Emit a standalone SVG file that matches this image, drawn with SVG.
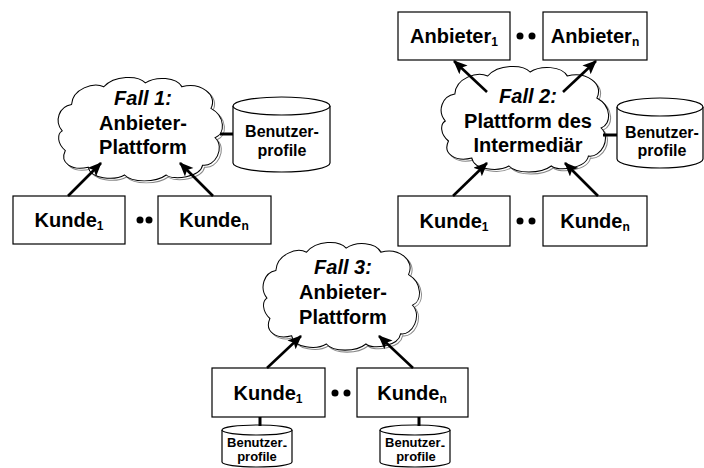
<svg xmlns="http://www.w3.org/2000/svg" xmlns:xlink="http://www.w3.org/1999/xlink" width="704" height="468" viewBox="0 0 704 468">
<style>
.box{fill:#fff;stroke:#000;stroke-width:1.2}
.cyl{fill:#fff;stroke:#000;stroke-width:1.2}
.t{font-family:"Liberation Sans",Arial,sans-serif;font-weight:bold;fill:#000;text-anchor:middle}
.big{font-size:20px}
.it{font-style:italic}
.mid{font-size:16px}
.sm{font-size:13px}
.sub{font-size:12px}
.arr{stroke:#000;stroke-width:2.6;fill:none;marker-end:url(#ah)}
.link{stroke:#000;stroke-width:3;fill:none}
.shadow{fill:#fff;stroke:#888;stroke-width:1}
.cloud{fill:#fff;stroke:#000;stroke-width:1}
</style>
<defs>
<marker id="ah" markerUnits="userSpaceOnUse" markerWidth="16" markerHeight="14" refX="13" refY="6" orient="auto">
<path d="M0,0 L14,6 L0,12 L3,6 z" fill="#000"/>
</marker>
<path id="cl" d="M5,55 C-3,45 2,30 14,28 C15,12 35,5 45,10 C55,-2 78,-2 85,6 C95,-1 115,0 120,10 C138,5 155,18 148,32 C162,40 162,58 152,62 C162,72 152,92 140,90 C138,102 112,106 105,100 C95,108 72,108 65,100 C55,106 32,104 30,92 C15,96 2,88 8,75 C0,68 0,58 5,55 Z"/>
</defs>

<g id="cloud1">
<use xlink:href="#cl" class="shadow" transform="translate(59,79) scale(1.04,0.98)"/>
<use xlink:href="#cl" class="cloud" transform="translate(57,77) scale(1.04,0.98)"/>
<text class="t big it" x="143" y="105">Fall 1:</text>
<text class="t big" x="143" y="130">Anbieter-</text>
<text class="t big" x="143" y="154">Plattform</text>
</g>
<g id="db1">
<path class="cyl" d="M233,106 A48.5,9 0 0,1 330,106 L330,163 A48.5,9 0 0,1 233,163 Z"/>
<path class="cyl" d="M233,106 A48.5,9 0 0,0 330,106"/>
<text class="t mid" x="282" y="137">Benutzer-</text>
<text class="t mid" x="282" y="156">profile</text>
</g>
<g id="c1k1">
<rect class="box" x="13" y="196" width="112" height="48"/>
<text class="t big" x="69" y="227">Kunde<tspan class="sub" dy="3">1</tspan></text>
</g>
<g id="c1kn">
<rect class="box" x="158" y="196" width="113" height="48"/>
<text class="t big" x="214" y="227">Kunde<tspan class="sub" dy="3">n</tspan></text>
</g>
<g id="c1dots"><circle cx="140" cy="220" r="3.5"/><circle cx="149" cy="220" r="3.5"/></g>

<g id="cloud2">
<use xlink:href="#cl" class="shadow" transform="translate(442,68) scale(1.06,1.0)"/>
<use xlink:href="#cl" class="cloud" transform="translate(440,66) scale(1.06,1.0)"/>
<text class="t big it" x="528" y="103">Fall 2:</text>
<text class="t big" x="528" y="128">Plattform des</text>
<text class="t big" x="528" y="152">Intermediär</text>
</g>
<g id="db2">
<path class="cyl" d="M617,107 A43,9 0 0,1 703,107 L703,159 A43,9 0 0,1 617,159 Z"/>
<path class="cyl" d="M617,107 A43,9 0 0,0 703,107"/>
<text class="t mid" x="662" y="138">Benutzer-</text>
<text class="t mid" x="662" y="156">profile</text>
</g>
<g id="c2a1">
<rect class="box" x="398" y="12" width="112" height="48"/>
<text class="t big" x="454" y="43">Anbieter<tspan class="sub" dy="3">1</tspan></text>
</g>
<g id="c2an">
<rect class="box" x="543" y="12" width="104" height="48"/>
<text class="t big" x="595" y="43">Anbieter<tspan class="sub" dy="3">n</tspan></text>
</g>
<g id="c2k1">
<rect class="box" x="398" y="196" width="112" height="50"/>
<text class="t big" x="454" y="228">Kunde<tspan class="sub" dy="3">1</tspan></text>
</g>
<g id="c2kn">
<rect class="box" x="543" y="196" width="104" height="50"/>
<text class="t big" x="595" y="228">Kunde<tspan class="sub" dy="3">n</tspan></text>
</g>
<g id="c2dots"><circle cx="520" cy="36" r="3.5"/><circle cx="532" cy="36" r="3.5"/><circle cx="520" cy="221" r="3.5"/><circle cx="532" cy="221" r="3.5"/></g>

<g id="cloud3">
<use xlink:href="#cl" class="shadow" transform="translate(264,244) scale(0.99,1.02)"/>
<use xlink:href="#cl" class="cloud" transform="translate(262,242) scale(0.99,1.02)"/>
<text class="t big it" x="343" y="274">Fall 3:</text>
<text class="t big" x="343" y="299">Anbieter-</text>
<text class="t big" x="343" y="324">Plattform</text>
</g>
<g id="c3k1">
<rect class="box" x="212" y="368" width="113" height="49"/>
<text class="t big" x="268" y="400">Kunde<tspan class="sub" dy="3">1</tspan></text>
</g>
<g id="c3kn">
<rect class="box" x="357" y="368" width="111" height="49"/>
<text class="t big" x="412" y="400">Kunde<tspan class="sub" dy="3">n</tspan></text>
</g>
<g id="c3dots"><circle cx="335" cy="393" r="3.5"/><circle cx="347" cy="393" r="3.5"/></g>
<g id="db3a">
<path class="cyl" d="M222,430 A35,5 0 0,1 292,430 L292,462 A35,5 0 0,1 222,462 Z"/>
<path class="cyl" d="M222,430 A35,5 0 0,0 292,430"/>
<text class="t sm" x="257" y="447">Benutzer<tspan dy="3">-</tspan></text>
<text class="t sm" x="257" y="461">profile</text>
</g>
<g id="db3b">
<path class="cyl" d="M380,430 A35,5 0 0,1 450,430 L450,462 A35,5 0 0,1 380,462 Z"/>
<path class="cyl" d="M380,430 A35,5 0 0,0 450,430"/>
<text class="t sm" x="415" y="447">Benutzer<tspan dy="3">-</tspan></text>
<text class="t sm" x="416" y="461">profile</text>
</g>

<g id="connectors">
<line class="arr" x1="68" y1="196" x2="101" y2="163"/>
<line class="arr" x1="213" y1="196" x2="180" y2="163"/>
<line class="link" x1="220" y1="134" x2="233" y2="134"/>
<line class="arr" x1="453" y1="196" x2="487" y2="163"/>
<line class="arr" x1="598" y1="196" x2="565" y2="163"/>
<line class="arr" x1="487" y1="92" x2="454" y2="61"/>
<line class="arr" x1="563" y1="92" x2="596" y2="61"/>
<line class="link" x1="603" y1="135" x2="617" y2="135"/>
<line class="arr" x1="267" y1="368" x2="301" y2="336"/>
<line class="arr" x1="413" y1="368" x2="379" y2="336"/>
<line class="link" x1="260" y1="417" x2="260" y2="426"/>
<line class="link" x1="419" y1="417" x2="419" y2="426"/>
</g>
</svg>
